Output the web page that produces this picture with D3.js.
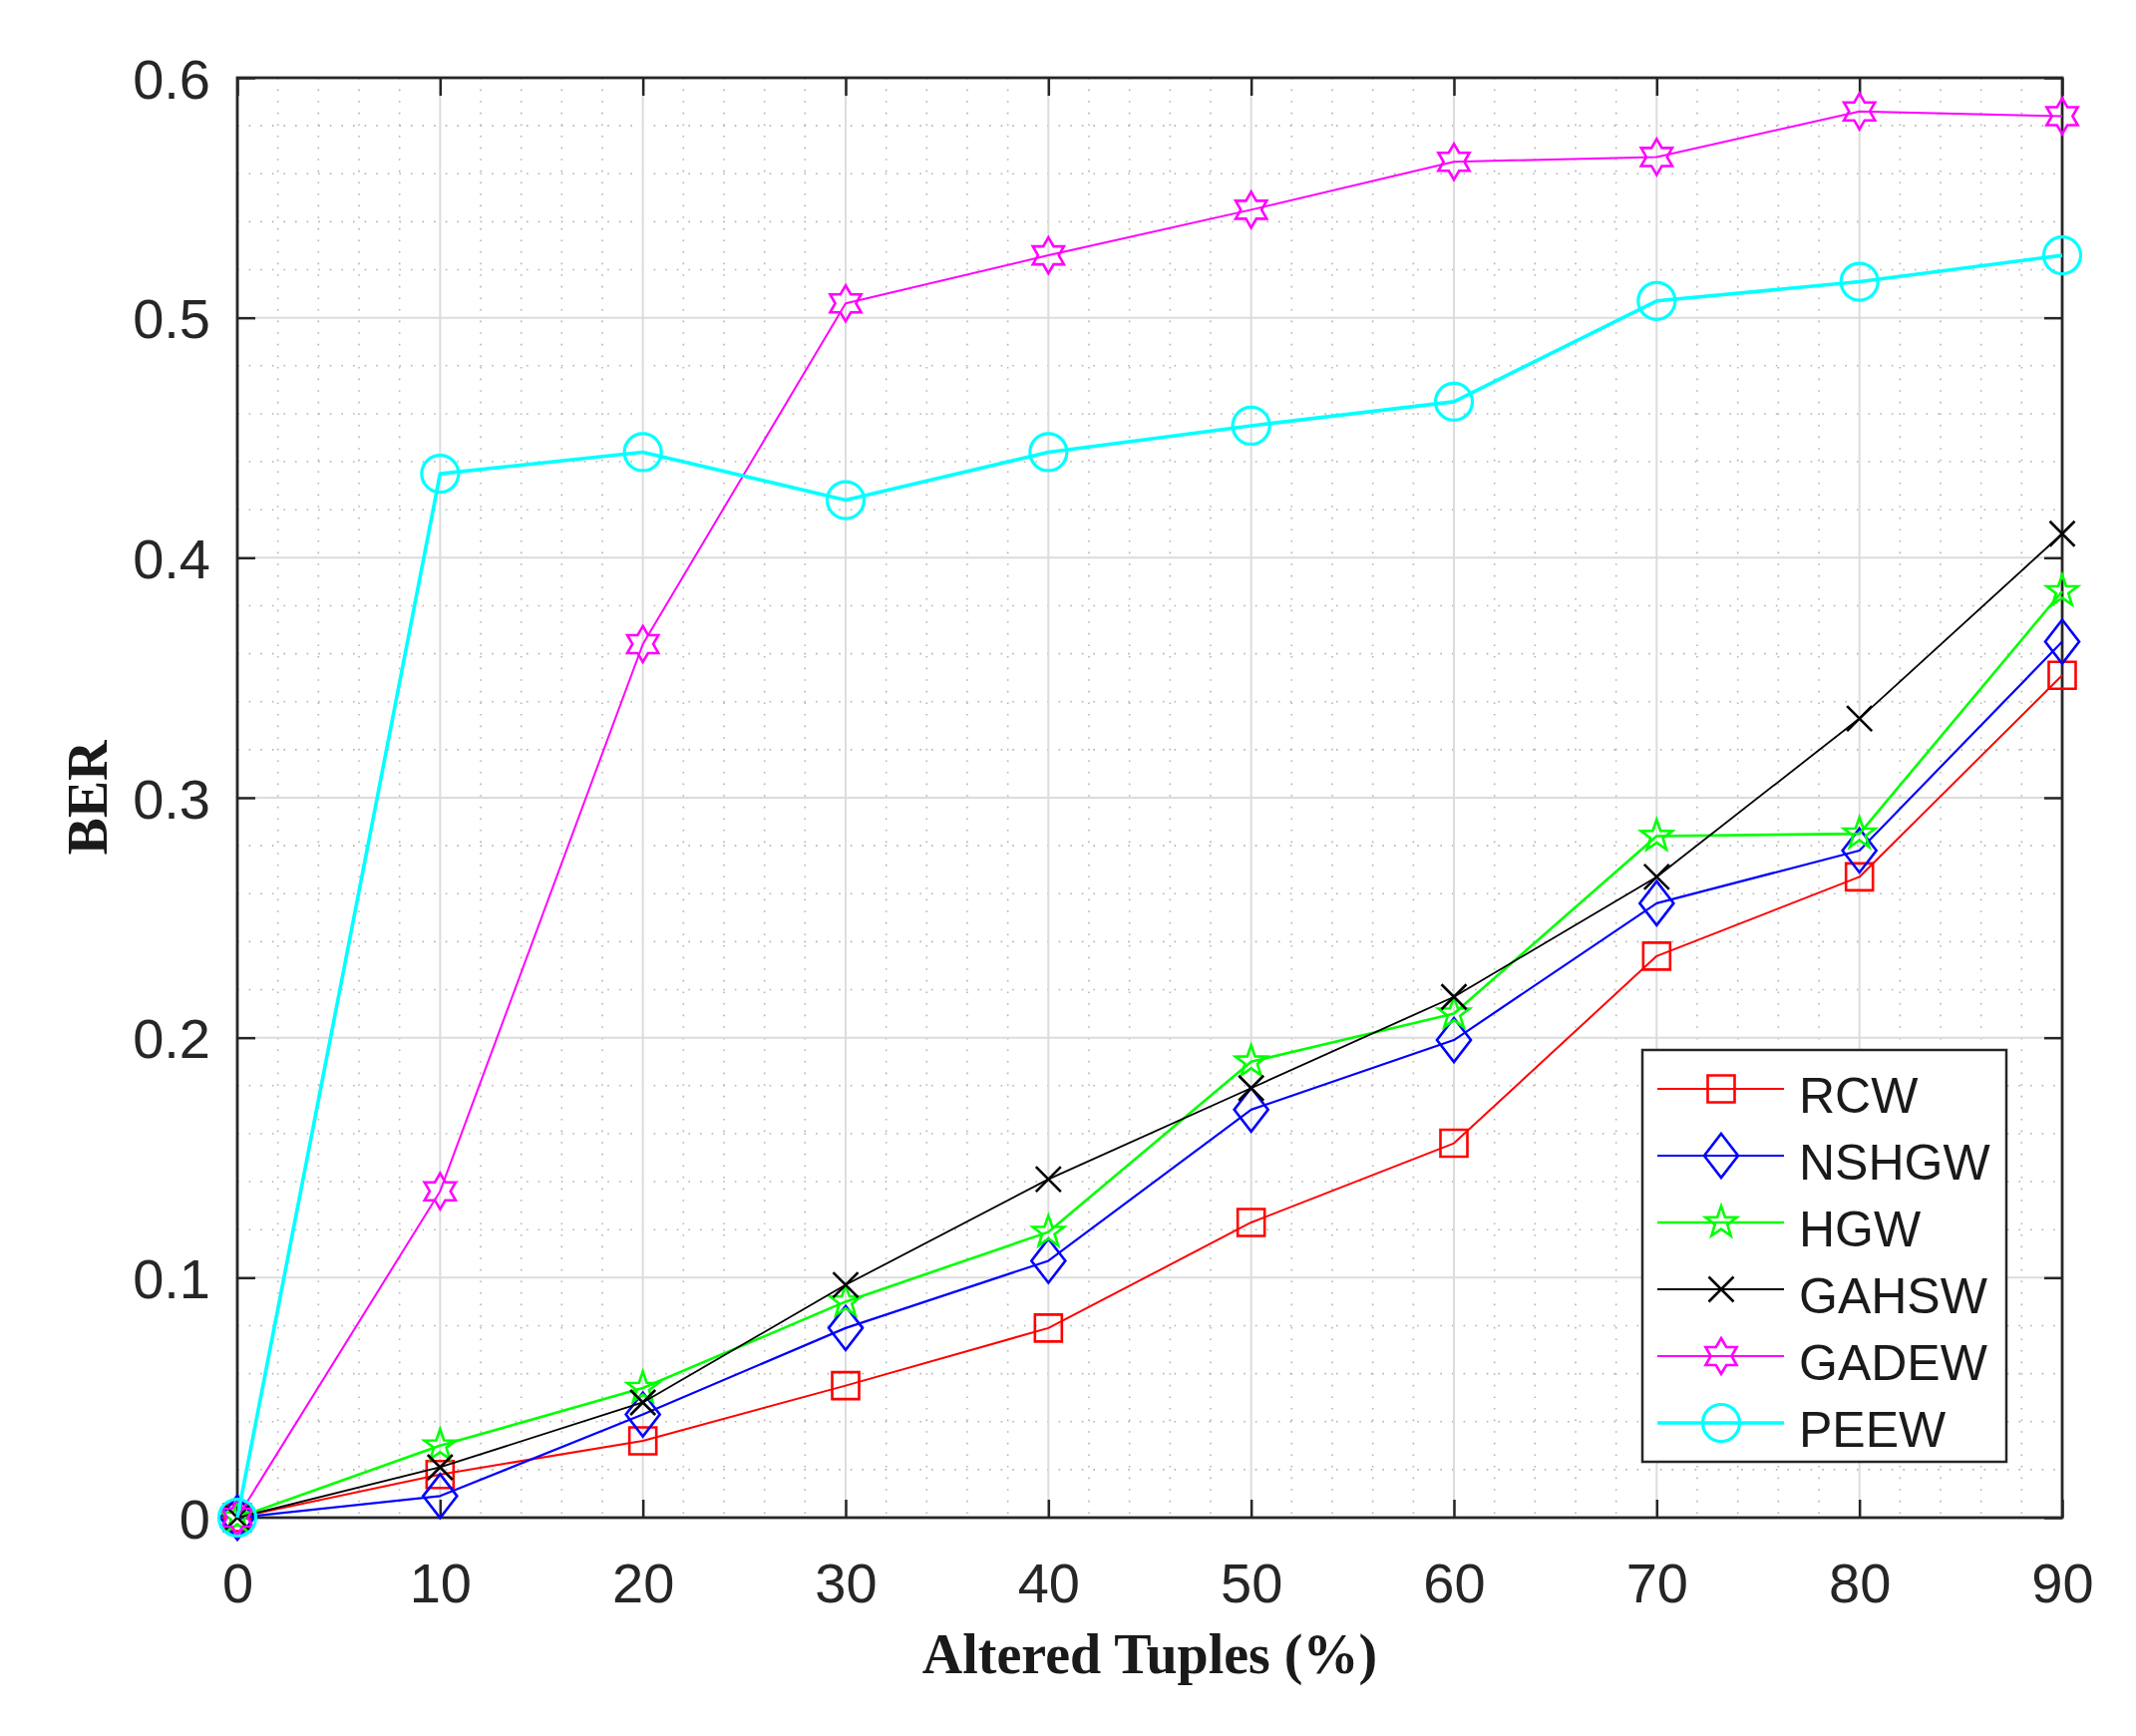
<!DOCTYPE html>
<html>
<head>
<meta charset="utf-8">
<script src="https://cdn.jsdelivr.net/npm/d3@7/dist/d3.min.js"></script>
<style>
  html, body { margin: 0; padding: 0; background: #fff; }
  svg { display: block; }
</style>
</head>
<body>
<svg id="chart" width="2142" height="1741"></svg>
<script>
// ---------------- DATA ----------------
const xValues = [0, 10, 20, 30, 40, 50, 60, 70, 80, 90];
const seriesNames = ["RCW", "NSHGW", "HGW", "GAHSW", "GADEW", "PEEW"];
const rcw   = [0, 0.018, 0.032, 0.055, 0.079, 0.123, 0.156, 0.234, 0.267, 0.351];
const nshgw = [0, 0.009, 0.043, 0.079, 0.107, 0.170, 0.199, 0.256, 0.278, 0.365];
const hgw   = [0, 0.030, 0.054, 0.090, 0.119, 0.190, 0.210, 0.284, 0.285, 0.386];
const gahsw = [0, 0.021, 0.048, 0.097, 0.141, 0.179, 0.217, 0.267, 0.333, 0.410];
const gadew = [0, 0.136, 0.364, 0.506, 0.526, 0.545, 0.565, 0.567, 0.586, 0.584];
const peew  = [0, 0.435, 0.444, 0.424, 0.444, 0.455, 0.465, 0.507, 0.515, 0.526];
const xTicks = [0, 10, 20, 30, 40, 50, 60, 70, 80, 90];
const yTicks = [0, 0.1, 0.2, 0.3, 0.4, 0.5, 0.6];
const xLabel = "Altered Tuples (%)";
const yLabel = "BER";

(function () {
// ---------------- STYLE ----------------
const seriesValues = [rcw, nshgw, hgw, gahsw, gadew, peew];
const colors  = ["#ff0000", "#0000ff", "#00ff00", "#000000", "#ff00ff", "#00ffff"];
const markers = ["square", "diamond", "pentagram", "x", "hexagram", "circle"];
const lineW   = [2, 2.2, 2.6, 1.8, 2, 3.6];

const W = 2142, H = 1741;
const pLeft = 238, pRight = 2068, pTop = 78, pBottom = 1522;

const svg = d3.select("#chart");
svg.append("rect").attr("width", W).attr("height", H).attr("fill", "#fff");

const x = d3.scaleLinear().domain([0, 90]).range([pLeft, pRight]);
const y = d3.scaleLinear().domain([0, 0.6]).range([pBottom, pTop]);

// ---------------- GRID ----------------
const grid = svg.append("g");
const xMinor = d3.range(0, 90.001, 2).filter(v => v % 10 !== 0);
const yMinor = d3.range(1, 30).filter(k => k % 5 !== 0).map(k => k * 0.02);

grid.selectAll(".vminor").data(xMinor).join("line")
  .attr("x1", d => x(d)).attr("x2", d => x(d))
  .attr("y1", pTop).attr("y2", pBottom)
  .attr("stroke", "#b4b4b4").attr("stroke-width", 1.6)
  .attr("stroke-dasharray", "1.6,10");
grid.selectAll(".hminor").data(yMinor).join("line")
  .attr("y1", d => y(d)).attr("y2", d => y(d))
  .attr("x1", pLeft).attr("x2", pRight)
  .attr("stroke", "#b4b4b4").attr("stroke-width", 1.6)
  .attr("stroke-dasharray", "1.6,10");

grid.selectAll(".vmajor").data(xTicks.slice(1, -1)).join("line")
  .attr("x1", d => x(d)).attr("x2", d => x(d))
  .attr("y1", pTop).attr("y2", pBottom)
  .attr("stroke", "#dcdcdc").attr("stroke-width", 2);
grid.selectAll(".hmajor").data(yTicks.slice(1, -1)).join("line")
  .attr("y1", d => y(d)).attr("y2", d => y(d))
  .attr("x1", pLeft).attr("x2", pRight)
  .attr("stroke", "#dcdcdc").attr("stroke-width", 2);

// ---------------- AXES ----------------
const axisColor = "#262626";
const tickLen = 18;
const fontSans = "'Liberation Sans', Arial, Helvetica, sans-serif";
const fontSerif = "'Liberation Serif', 'Times New Roman', serif";

const xAxisB = d3.axisBottom(x).tickValues(xTicks).tickSize(-tickLen).tickFormat(d3.format("d"));
const xAxisT = d3.axisTop(x).tickValues(xTicks).tickSize(-tickLen).tickFormat("");
const yAxisL = d3.axisLeft(y).tickValues(yTicks).tickSize(-tickLen).tickFormat(d => d === 0 ? "0" : d3.format(".1f")(d));
const yAxisR = d3.axisRight(y).tickValues(yTicks).tickSize(-tickLen).tickFormat("");

function styleAxis(g) {
  g.select(".domain").remove();
  g.selectAll(".tick line").attr("stroke", axisColor).attr("stroke-width", 2.5);
  g.selectAll(".tick text").attr("fill", axisColor).attr("font-family", fontSans).attr("font-size", 56);
}
svg.append("g").attr("transform", `translate(0,${pBottom})`).call(xAxisB).call(styleAxis)
  .selectAll(".tick text").attr("y", 85).attr("dy", null);
svg.append("g").attr("transform", `translate(0,${pTop})`).call(xAxisT).call(styleAxis);
svg.append("g").attr("transform", `translate(${pLeft},0)`).call(yAxisL).call(styleAxis)
  .selectAll(".tick text").attr("x", -27).attr("dy", "0.36em");
svg.append("g").attr("transform", `translate(${pRight},0)`).call(yAxisR).call(styleAxis);

svg.append("rect")
  .attr("x", pLeft).attr("y", pTop).attr("width", pRight - pLeft).attr("height", pBottom - pTop)
  .attr("fill", "none").attr("stroke", axisColor).attr("stroke-width", 2.8);

// Axis titles
svg.append("text")
  .attr("x", (pLeft + pRight) / 2).attr("y", 1678)
  .attr("text-anchor", "middle")
  .attr("font-family", fontSerif).attr("font-weight", "bold").attr("font-size", 56)
  .attr("fill", "#1a1a1a")
  .text(xLabel);
svg.append("text")
  .attr("transform", `translate(107,${(pTop + pBottom) / 2}) rotate(-90)`)
  .attr("text-anchor", "middle")
  .attr("font-family", fontSerif).attr("font-weight", "bold").attr("font-size", 56)
  .attr("fill", "#1a1a1a")
  .text(yLabel);

// ---------------- MARKERS ----------------
function starPath(n, R, r) {
  const pts = [];
  for (let i = 0; i < 2 * n; i++) {
    const a = -Math.PI / 2 + i * Math.PI / n;
    const rad = i % 2 === 0 ? R : r;
    pts.push([rad * Math.cos(a), rad * Math.sin(a)]);
  }
  return "M" + pts.map(p => p[0].toFixed(2) + "," + p[1].toFixed(2)).join("L") + "Z";
}
function markerPath(type) {
  switch (type) {
    case "square": return "M-13.5,-13.5H13.5V13.5H-13.5Z";
    case "diamond": return "M0,-22L17,0L0,22L-17,0Z";
    case "pentagram": return starPath(5, 16.5, 6.6);
    case "hexagram": return starPath(6, 18, 10.4);
    case "x": return "M-12.5,-12.5L12.5,12.5M-12.5,12.5L12.5,-12.5";
    case "circle": return d3.arc()({innerRadius: 0, outerRadius: 18.5, startAngle: 0, endAngle: 2 * Math.PI});
  }
}

// ---------------- SERIES ----------------
const lineGen = d3.line().x(d => x(d[0])).y(d => y(d[1]));
const plotG = svg.append("g");
seriesValues.forEach((vals, i) => {
  const pts = xValues.map((xv, j) => [xv, vals[j]]);
  plotG.append("path")
    .attr("d", lineGen(pts))
    .attr("fill", "none")
    .attr("stroke", colors[i])
    .attr("stroke-width", lineW[i])
    .attr("stroke-linejoin", "round");
  plotG.selectAll(".m" + i).data(pts).join("path")
    .attr("class", "m" + i)
    .attr("transform", d => `translate(${x(d[0])},${y(d[1])})`)
    .attr("d", markerPath(markers[i]))
    .attr("fill", "none")
    .attr("stroke", colors[i])
    .attr("stroke-width", markers[i] === "circle" ? 3.2 : 2.6);
});

// ---------------- LEGEND ----------------
const lg = svg.append("g");
lg.append("rect")
  .attr("x", 1647).attr("y", 1053).attr("width", 365).attr("height", 413)
  .attr("fill", "#fff").attr("stroke", axisColor).attr("stroke-width", 2.5);
seriesNames.forEach((name, i) => {
  const ry = 1092 + i * 67;
  lg.append("line")
    .attr("x1", 1662).attr("x2", 1789).attr("y1", ry).attr("y2", ry)
    .attr("stroke", colors[i]).attr("stroke-width", lineW[i]);
  lg.append("path")
    .attr("transform", `translate(1726,${ry})`)
    .attr("d", markerPath(markers[i]))
    .attr("fill", "none").attr("stroke", colors[i])
    .attr("stroke-width", markers[i] === "circle" ? 3.2 : 2.6);
  lg.append("text")
    .attr("x", 1804).attr("y", ry + 24)
    .attr("font-family", fontSans).attr("font-size", 50)
    .attr("fill", "#1a1a1a")
    .text(name);
});
})();
</script>
</body>
</html>
